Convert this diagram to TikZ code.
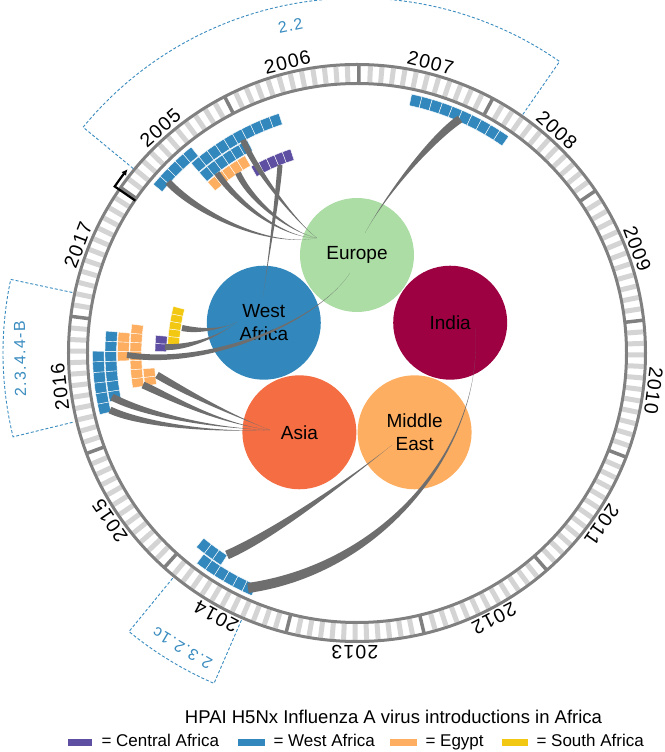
\documentclass[tikz,border=0pt]{standalone}
\usepackage{fontspec}
\setmainfont{Liberation Sans}
\usetikzlibrary{calc,arrows.meta}

\definecolor{europecol}{HTML}{ABDDA4}
\definecolor{wafrcol}{HTML}{3288BD}
\definecolor{asiacol}{HTML}{F46D43}
\definecolor{meastcol}{HTML}{FDAE61}
\definecolor{indiacol}{HTML}{9E0142}
\definecolor{cafrcol}{HTML}{5E4FA2}
\definecolor{egyptcol}{HTML}{FDAE61}
\definecolor{safrcol}{HTML}{F2C812}
\definecolor{ringcol}{HTML}{808080}
\definecolor{barcol}{HTML}{D4D4D4}
\definecolor{flowcol}{HTML}{6E6E6E}
\definecolor{cladecol}{HTML}{3A8CC0}

% degrees per month, 13 years of 12 months
\newcommand{\mw}{2.30769}

% one introduction: month, level, colour
\newcommand{\cell}[3]{%
  \pgfmathsetmacro{\aA}{145-#1*\mw}%
  \pgfmathsetmacro{\aB}{\aA-\mw}%
  \pgfmathsetmacro{\rA}{252.9-#2*12.5}%
  \pgfmathsetmacro{\rB}{\rA+11.6}%
  \filldraw[cellbox,fill=#3] (\aA:\rA) arc[start angle=\aA,end angle=\aB,radius=\rA]
    -- (\aB:\rB) arc[start angle=\aB,end angle=\aA,radius=\rB] -- cycle;}

% tapered link: from, control 1, control 2, to, half width
\newcommand{\flow}[5]{%
  \fill[flowcol] (#1) .. controls (#2) and ($(#3)!#5!-90:(#4)$) .. ($(#4)!#5!90:(#3)$)
    -- ($(#4)!#5!-90:(#3)$) .. controls ($(#3)!#5!90:(#4)$) and (#2) .. (#1) -- cycle;}

\begin{document}
\begin{tikzpicture}[x=1pt,y=1pt,
  region/.style={circle,minimum size=114pt,inner sep=0pt,align=center,
    font=\fontsize{19}{23}\selectfont},
  yearlab/.style={inner sep=0pt,font=\fontsize{19.5}{22}\selectfont\addfontfeatures{LetterSpace=6}},
  cladelab/.style={inner sep=0pt,text=cladecol,font=\fontsize{16}{19}\selectfont\addfontfeatures{LetterSpace=8}},
  cladeline/.style={cladecol,line width=0.9pt,dash pattern=on 3pt off 2pt},
  ringline/.style={ringcol,line width=3pt},
  monthbar/.style={barcol,line width=5pt},
  yearbar/.style={ringcol,line width=3.5pt},
  cellbox/.style={draw=white,line width=0.4pt},
  startmark/.style={black,line width=2.2pt,-{Latex[length=6pt,width=6pt]}},
  legtext/.style={anchor=base west,font=\fontsize{17}{20}\selectfont},
  titlelab/.style={anchor=base,font=\fontsize{18.5}{22}\selectfont}]

\useasboundingbox (-357,-399) rectangle (307,353);
\fill[white] (-357,-399) rectangle (307,353);

% time ring
\foreach \m in {0,...,155}{
  \pgfmathsetmacro{\ang}{145-\m*\mw}
  \pgfmathtruncatemacro{\mo}{mod(\m,12)}
  \ifnum\mo=0 \draw[yearbar] (\ang:270) -- (\ang:288);
  \else \draw[monthbar] (\ang:271) -- (\ang:287); \fi
}
\draw[ringline] (0,0) circle[radius=288.5];
\draw[ringline] (0,0) circle[radius=269.5];
\draw[startmark] (145.5:269) -- (145.5:294) arc[start angle=145.5,end angle=141.3,radius=294];

\foreach \y [count=\k from 0] in {2005,...,2017}{
  \pgfmathsetmacro{\ang}{145-(\k+0.5)*360/13}
  \node[yearlab,rotate=\ang-90] (yr\y) at (\ang:299) {\y};
}

% clades
\draw[cladeline] (140.5:290) -- (140.5:355) arc[start angle=140.5,end angle=55.2,radius=355] -- (55.2:290);
\node[cladelab,rotate=11.5] (clade22) at (101.5:334) {2.2};
\draw[cladeline] (168:291) -- (168:354) arc[start angle=168,end angle=193.7,radius=354] -- (193.7:291);
\node[cladelab,rotate=91] (clade2344) at (181:337) {2.3.4.4-B};
\draw[cladeline] (230.7:291) -- (230.7:360) arc[start angle=230.7,end angle=246.6,radius=360] -- (246.6:291);
\node[cladelab,rotate=149.4] (clade2321) at (239.4:343) {2.3.2.1c};

% sources
\node[region,fill=europecol] (europe) at (90:98) {Europe};
\node[region,fill=indiacol] (india) at (18:98) {India};
\node[region,fill=meastcol] (meast) at (-54:98) {Middle\\East};
\node[region,fill=asiacol] (asia) at (-126:98) {Asia};
\node[region,fill=wafrcol] (wafrica) at (162:98) {West\\Africa};

% introductions
\foreach \m in {2,...,6} {\cell{\m}{0}{wafrcol}}
\foreach \m in {6,...,15} {\cell{\m}{1}{wafrcol}}
\foreach \m in {6,...,11} {\cell{\m}{2}{wafrcol}}
\foreach \m in {6,...,10} {\cell{\m}{3}{egyptcol}}
\foreach \m in {11,...,15} {\cell{\m}{4}{cafrcol}}
\foreach \m in {29,...,38} {\cell{\m}{0}{wafrcol}}
\foreach \m in {112,...,117} {\cell{\m}{0}{wafrcol}}
\foreach \m in {116,...,118} {\cell{\m}{1}{wafrcol}}
\foreach \m in {135,...,140} {\cell{\m}{0}{wafrcol}}
\foreach \m in {136,...,142} {\cell{\m}{1}{wafrcol}}
\foreach \m in {140,...,142} {\cell{\m}{2}{egyptcol}}
\foreach \m in {137,...,143} {\cell{\m}{3}{egyptcol}}
\foreach \m in {137,138} {\cell{\m}{4}{egyptcol}}
\foreach \m in {141,142} {\cell{\m}{5}{cafrcol}}
\foreach \m in {142,...,146} {\cell{\m}{6}{safrcol}}

% link ends
\coordinate (euhub) at (-40,115);
\coordinate (euhubb) at (8,120);
\coordinate (euhubc) at (-7,80);
\coordinate (wahub) at (-120,31);
\coordinate (wahubb) at (-94,56);
\coordinate (ashub) at (-87,-77);
\coordinate (mehub) at (35,-92);
\coordinate (inhub) at (118,25);
\coordinate (e05a) at (-189,171);
\coordinate (e05b) at (-140,180);
\coordinate (e05c) at (-119,180);
\coordinate (e05d) at (-114,213);
\coordinate (e06) at (-77,188);
\coordinate (e07) at (103,234);
\coordinate (e14a) at (-130,-202);
\coordinate (e14b) at (-109,-235);
\coordinate (e16a) at (-230,-2);
\coordinate (e16b) at (-175,25);
\coordinate (e16c) at (-192,6);
\coordinate (e16d) at (-200,-22);
\coordinate (e16e) at (-214,-32);
\coordinate (e16f) at (-245,-44);
\coordinate (e16g) at (-247,-57);

\flow{euhub}{-90,105}{-160,140}{e05a}{3.5pt}
\flow{euhub}{-75,115}{-120,150}{e05b}{3pt}
\flow{euhub}{-65,120}{-105,150}{e05c}{3pt}
\flow{euhub}{-60,130}{-100,180}{e05d}{3pt}
\flow{wahubb}{-88,100}{-80,150}{e06}{2.5pt}
\flow{euhubb}{30,160}{75,215}{e07}{4pt}
\flow{euhubc}{-40,30}{-150,-15}{e16a}{3pt}
\flow{wahub}{-140,22}{-160,22}{e16b}{3pt}
\flow{wahub}{-140,15}{-170,5}{e16c}{3pt}
\flow{ashub}{-130,-60}{-170,-40}{e16d}{3.5pt}
\flow{ashub}{-140,-70}{-185,-45}{e16e}{3.5pt}
\flow{ashub}{-150,-75}{-215,-60}{e16f}{3.5pt}
\flow{ashub}{-150,-80}{-220,-70}{e16g}{3.5pt}
\flow{mehub}{0,-120}{-80,-180}{e14a}{4.5pt}
\flow{inhub}{128,-90}{30,-215}{e14b}{5pt}

% legend
\node[titlelab] (title) at (36.5,-370) {HPAI H5Nx Influenza A virus introductions in Africa};
\fill[cafrcol] (-289,-393) rectangle (-265,-386);
\node[legtext] (legcafr) at (-259,-393) {= Central Africa};
\fill[wafrcol] (-119,-393) rectangle (-92,-386);
\node[legtext] (legwafr) at (-87,-393) {= West Africa};
\fill[egyptcol] (33,-393) rectangle (60,-386);
\node[legtext] (legegypt) at (65,-393) {= Egypt};
\fill[safrcol] (145,-393) rectangle (171,-386);
\node[legtext] (legsafr) at (176,-393) {= South Africa};
\end{tikzpicture}
\end{document}
